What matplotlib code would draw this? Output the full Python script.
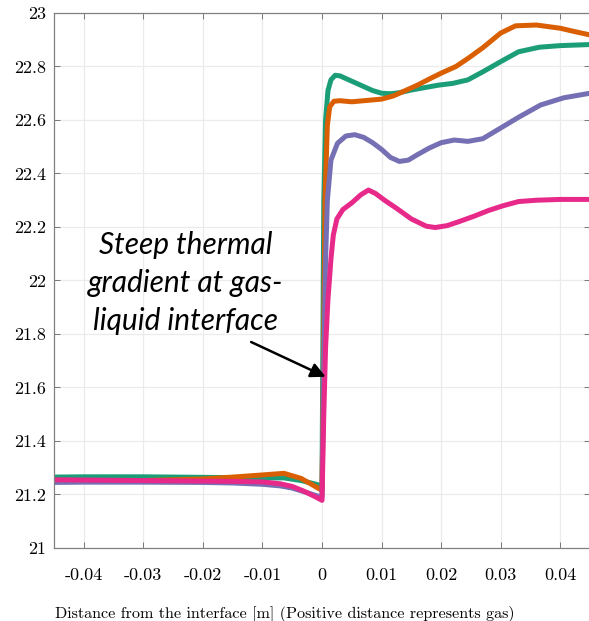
import matplotlib.pyplot as plt

# perfiles de temperatura a traves de la interfase (x<0 liquido, x>0 gas)
x_green = [-0.045, -0.04, -0.03, -0.02, -0.015, -0.01, -0.0064, -0.0035, -0.0013, 0.0,
           0.0001, 0.0003, 0.0006, 0.001, 0.0015, 0.0022, 0.003, 0.004, 0.0055, 0.007,
           0.0085, 0.01, 0.0115, 0.013, 0.015, 0.017, 0.0195, 0.022, 0.0245, 0.027,
           0.03, 0.033, 0.0365, 0.04, 0.045]
t_green = [21.265, 21.266, 21.266, 21.264, 21.263, 21.262, 21.262, 21.252, 21.24, 21.232,
           21.6, 22.3, 22.6, 22.71, 22.75, 22.767, 22.765, 22.755, 22.74, 22.725,
           22.71, 22.70, 22.698, 22.702, 22.712, 22.72, 22.73, 22.737, 22.75, 22.78,
           22.818, 22.855, 22.872, 22.878, 22.882]

x_orange = [-0.045, -0.04, -0.03, -0.02, -0.015, -0.01, -0.0064, -0.0035, -0.0013, 0.0,
            0.0002, 0.0005, 0.0009, 0.0013, 0.002, 0.003, 0.005, 0.007, 0.0085, 0.01,
            0.012, 0.014, 0.016, 0.018, 0.02, 0.0225, 0.0245, 0.027, 0.03, 0.0325,
            0.036, 0.04, 0.0425, 0.045]
t_orange = [21.25, 21.25, 21.252, 21.258, 21.265, 21.273, 21.279, 21.26, 21.232, 21.215,
            21.6, 22.3, 22.58, 22.65, 22.67, 22.672, 22.668, 22.672, 22.675, 22.678,
            22.69, 22.71, 22.73, 22.753, 22.775, 22.80, 22.83, 22.87, 22.925, 22.952,
            22.955, 22.943, 22.93, 22.918]

x_purple = [-0.045, -0.04, -0.03, -0.02, -0.015, -0.01, -0.007, -0.005, -0.003, -0.001, 0.0,
            0.0003, 0.0006, 0.0009, 0.0015, 0.0026, 0.004, 0.0055, 0.007, 0.0085,
            0.01, 0.0115, 0.013, 0.0145, 0.016, 0.018, 0.02, 0.0222, 0.0245, 0.027,
            0.03, 0.033, 0.0367, 0.0406, 0.045]
t_purple = [21.245, 21.246, 21.246, 21.245, 21.243, 21.238, 21.232, 21.224, 21.21, 21.196, 21.19,
            21.7, 22.08, 22.3, 22.45, 22.513, 22.54, 22.545, 22.535, 22.515,
            22.49, 22.46, 22.445, 22.45, 22.47, 22.495, 22.515, 22.525, 22.52, 22.53,
            22.57, 22.61, 22.656, 22.683, 22.70]

x_pink = [-0.045, -0.04, -0.03, -0.02, -0.015, -0.01, -0.007, -0.005, -0.003, -0.001, 0.0,
          0.0003, 0.0006, 0.001, 0.0015, 0.0019, 0.0025, 0.0035, 0.005, 0.0065,
          0.0078, 0.009, 0.0105, 0.0125, 0.015, 0.0175, 0.019, 0.021, 0.023, 0.0255,
          0.028, 0.0305, 0.033, 0.036, 0.04, 0.045]
t_pink = [21.255, 21.254, 21.252, 21.25, 21.249, 21.247, 21.24, 21.23, 21.212, 21.19, 21.178,
          21.5, 21.75, 21.93, 22.08, 22.17, 22.23, 22.265, 22.29, 22.32,
          22.338, 22.325, 22.3, 22.27, 22.23, 22.203, 22.198, 22.205, 22.22, 22.24,
          22.262, 22.28, 22.295, 22.3, 22.303, 22.303]

xticks = [-0.04, -0.03, -0.02, -0.01, 0, 0.01, 0.02, 0.03, 0.04]
xtick_labels = ['-0.04', '-0.03', '-0.02', '-0.01', '0', '0.01', '0.02', '0.03', '0.04']
yticks = [21, 21.2, 21.4, 21.6, 21.8, 22, 22.2, 22.4, 22.6, 22.8, 23]
ytick_labels = ['21', '21.2', '21.4', '21.6', '21.8', '22', '22.2', '22.4', '22.6', '22.8', '23']

plt.rcParams['font.family'] = 'cmr10'
plt.rcParams['axes.unicode_minus'] = False

fig = plt.figure(figsize=(5.89, 6.21), dpi=100)
ax = fig.add_axes([0.0917, 0.1176, 0.910, 0.8615])

ax.plot(x_green, t_green, color='#1b9e77', lw=3.6, solid_capstyle='round')
ax.plot(x_orange, t_orange, color='#d95f02', lw=3.6, solid_capstyle='round')
ax.plot(x_purple, t_purple, color='#7570b3', lw=3.6, solid_capstyle='round')
ax.plot(x_pink, t_pink, color='#e7298a', lw=3.6, solid_capstyle='round')

ax.set_xlim(-0.045, 0.045)
ax.set_ylim(21, 23)
ax.set_xticks(xticks)
ax.set_xticklabels(xtick_labels, fontsize=13)
ax.set_yticks(yticks)
ax.set_yticklabels(ytick_labels, fontsize=13)
ax.tick_params(direction='in', top=True, right=True, length=4, width=0.6,
               color='#666666', pad=6)
ax.tick_params(axis='x', pad=14)
ax.grid(color='#ebebeb', lw=0.9)
ax.set_axisbelow(True)
for s in ax.spines.values():
    s.set_color('#808080')
    s.set_linewidth(0.9)

ax.set_xlabel('Distance from the interface [m] (Positive distance represents gas)',
              fontsize=11.6)
ax.xaxis.set_label_coords(0.431, -0.108)

# texto y flecha hacia el salto en x=0
ax.text(-0.0229, 21.99, 'Steep thermal\ngradient at gas-\nliquid interface',
        ha='center', va='center', multialignment='center',
        fontsize=21.5, style='italic', family='Lato', linespacing=1.45)
ax.annotate('', xy=(0.0006, 21.64), xytext=(-0.0119, 21.77),
            arrowprops=dict(arrowstyle='-|>', color='black', lw=1.8,
                            mutation_scale=22, shrinkA=0, shrinkB=0))

plt.savefig('out.png', dpi=100)
